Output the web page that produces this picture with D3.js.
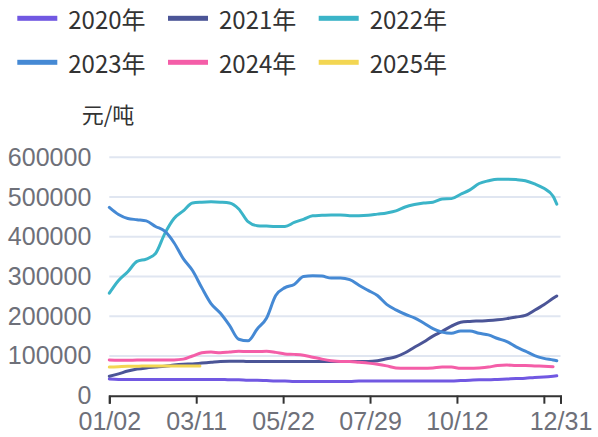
<!DOCTYPE html>
<html>
<head>
<meta charset="utf-8">
<script src="https://cdn.jsdelivr.net/npm/d3@7"></script>
<style>
  html, body { margin: 0; padding: 0; background: #fff; }
  svg { display: block; font-family: "Microsoft YaHei", "Noto Sans CJK SC", sans-serif; }
</style>
</head>
<body>
<svg id="chart" width="598" height="437"></svg>
<script>
// values in thousands of 元/吨, sampled every 5 trading days
const unit = 1000;
const dayCount = 245;
const sampleDays = d3.range(0, 241, 5).concat([242]);
const days2024 = d3.range(0, 241, 5);
const days2025 = [0, 5, 10, 15, 20, 25, 30, 35, 40, 45, 49];

const tickDays = [0, 47, 94, 141, 188, 235, 244];
const tickLabels = ["01/02", "03/11", "05/22", "07/29", "10/12", "", "12/31"];

const years = ["2020年", "2021年", "2022年", "2023年", "2024年", "2025年"];
const colors = ["#7158e2", "#4b5597", "#3bb4c8", "#4589d4", "#f45ea8", "#f3d652"];

const v2020 = [42, 41, 41, 41, 41, 41, 41, 41, 41, 41, 41, 41, 41, 40, 40, 39, 39, 38, 37, 37,
  36, 36, 36, 36, 36, 36, 36, 37, 37, 37, 37, 37, 37, 37, 37, 37, 37, 37, 38, 39,
  40, 40, 41, 42, 43, 44, 46, 47, 49, 50];
const v2021 = [49, 55, 62, 67, 70, 72, 74, 77, 79, 80, 82, 84, 86, 87, 87, 86, 86, 86, 86, 86,
  86, 86, 86, 86, 86, 86, 86, 86, 86, 88, 93, 98, 108, 122, 135, 150, 162, 175, 185, 187,
  188, 189, 191, 194, 198, 202, 215, 229, 245, 251];
const v2022 = [258, 290, 312, 338, 344, 358, 408, 446, 465, 485, 487, 488, 487, 485, 470, 438, 428, 427, 426, 426,
  436, 444, 453, 454, 455, 455, 453, 453, 454, 457, 460, 465, 475, 481, 485, 487, 495, 496, 507, 518,
  534, 541, 545, 545, 544, 541, 533, 522, 502, 482];
const v2023 = [474, 456, 446, 443, 440, 426, 414, 385, 345, 315, 272, 232, 208, 177, 142, 138, 168, 195, 252, 272,
  280, 300, 302, 301, 296, 296, 292, 278, 265, 252, 230, 216, 205, 196, 183, 169, 160, 157, 163, 163,
  157, 153, 144, 136, 123, 112, 101, 94, 90, 88];
const v2024 = [90, 89, 89, 90, 90, 90, 90, 90, 92, 100, 108, 110, 108, 110, 112, 111, 111, 112, 109, 105,
  104, 102, 97, 92, 88, 86, 86, 84, 82, 79, 75, 70, 69, 69, 69, 70, 72, 72, 69, 69,
  70, 72, 76, 77, 76, 76, 75, 74, 73];
const v2025 = [72, 73, 74, 74, 75, 75, 75, 75, 75, 75, 75];

const series = [
  { days: sampleDays, values: v2020 },
  { days: sampleDays, values: v2021 },
  { days: sampleDays, values: v2022 },
  { days: sampleDays, values: v2023 },
  { days: days2024, values: v2024 },
  { days: days2025, values: v2025 }
];

const svg = d3.select("#chart");

const x = d3.scaleLinear().domain([0, dayCount - 1]).range([109.3, 560.5]);
const y = d3.scaleLinear().domain([0, 600000]).range([395.7, 157.3]);

// grid + y labels
const yAxis = svg.append("g")
  .attr("transform", "translate(109.3,0)")
  .call(d3.axisLeft(y).ticks(6).tickSize(0).tickPadding(18).tickFormat(d3.format("d")));
yAxis.select(".domain").remove();
yAxis.selectAll("text")
  .attr("fill", "#6e7079")
  .style("font-size", "25px");

svg.append("g")
  .selectAll("line")
  .data(y.ticks(6).filter(d => d > 0))
  .join("line")
  .attr("x1", x(0))
  .attr("x2", x(dayCount - 1))
  .attr("y1", d => y(d))
  .attr("y2", d => y(d))
  .attr("stroke", "#e0e6f1")
  .attr("stroke-width", 2);

// lines
const line = d3.line()
  .x(d => x(d[0]))
  .y(d => y(d[1] * unit))
  .curve(d3.curveMonotoneX);

svg.append("g")
  .selectAll("path")
  .data(series)
  .join("path")
  .attr("d", s => line(s.days.map((d, i) => [d, s.values[i]])))
  .attr("fill", "none")
  .attr("stroke", (s, i) => colors[i])
  .attr("stroke-width", 3)
  .attr("stroke-linejoin", "round")
  .attr("stroke-linecap", "round");

// x axis
const xAxis = svg.append("g")
  .attr("transform", `translate(0,${y(0)})`)
  .call(d3.axisBottom(x)
    .tickValues(tickDays)
    .tickSizeOuter(0)
    .tickSize(8)
    .tickPadding(9)
    .tickFormat((d, i) => tickLabels[i]));
xAxis.select(".domain").attr("stroke", "#333").attr("stroke-width", 2);
xAxis.selectAll(".tick line").attr("stroke", "#333").attr("stroke-width", 2);
xAxis.selectAll("text")
  .attr("fill", "#6e7079")
  .style("font-size", "25px");

// axis name
svg.append("text")
  .attr("x", 108)
  .attr("y", 113)
  .attr("text-anchor", "middle")
  .attr("dominant-baseline", "central")
  .attr("fill", "#333")
  .style("font-size", "22px")
  .text("元/吨");

// legend
const legend = svg.append("g")
  .selectAll("g")
  .data(years)
  .join("g")
  .attr("transform", (d, i) => `translate(${17.3 + (i % 3) * 150.7},${18.3 + Math.floor(i / 3) * 44})`);

legend.append("rect")
  .attr("x", 0)
  .attr("y", -2.5)
  .attr("width", 40)
  .attr("height", 5)
  .attr("fill", (d, i) => colors[i]);

legend.append("text")
  .attr("x", 51)
  .attr("y", 0)
  .attr("dominant-baseline", "central")
  .attr("fill", "#333")
  .style("font-size", "24px")
  .text(d => d);
</script>
</body>
</html>
